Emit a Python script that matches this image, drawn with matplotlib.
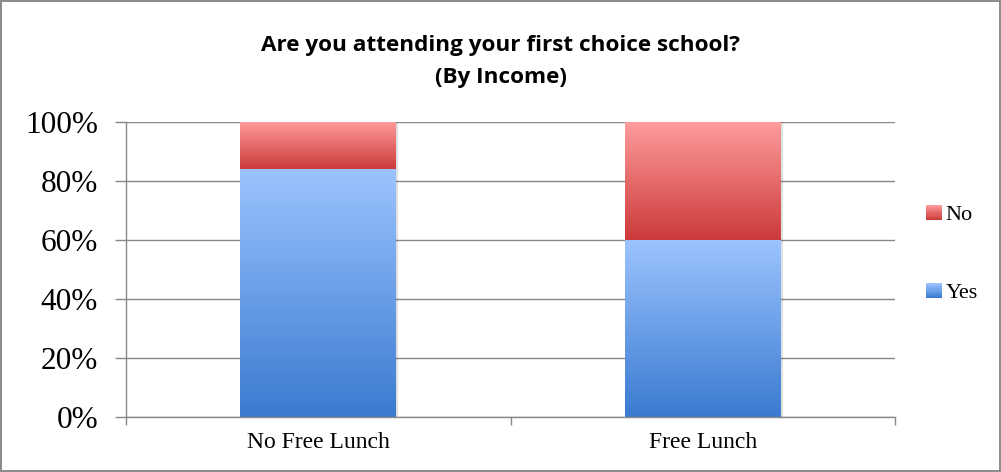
import numpy as np
import matplotlib
matplotlib.use("Agg")
import matplotlib.pyplot as plt
from matplotlib.colors import LinearSegmentedColormap
from matplotlib.patches import Rectangle
from matplotlib.legend_handler import HandlerBase

categories = ["No Free Lunch", "Free Lunch"]
yes_vals = [84, 60]
no_vals = [16, 40]
series_names = ["No", "Yes"]
yticks = [0, 20, 40, 60, 80, 100]

blue_cmap = LinearSegmentedColormap.from_list("b", ["#3a7bd0", "#9cc3ff"])
red_cmap = LinearSegmentedColormap.from_list("r", ["#cc3a3a", "#ff9c9c"])

fig = plt.figure(figsize=(10.01, 4.72), dpi=100)
fig.patch.set_edgecolor("#8c8c8c")
fig.patch.set_linewidth(1.5)
ax = fig.add_axes([126/1001, 1-417/472, (895-126)/1001, (417-122)/472])

x = np.arange(len(categories))
width = 0.405
grad = np.linspace(0, 1, 256).reshape(-1, 1)

def grad_bar(xs, heights, bottoms, cmap):
    bars = ax.bar(xs, heights, width, bottom=bottoms, color="none", zorder=3)
    for b in bars:
        x0, y0 = b.get_x(), b.get_y()
        w, h = b.get_width(), b.get_height()
        sh = Rectangle((x0 + 0.006, y0), w, h, facecolor="#000000", alpha=0.12,
                       edgecolor="none", zorder=2)
        ax.add_patch(sh)
        im = ax.imshow(grad, cmap=cmap, origin="lower", aspect="auto",
                       extent=[x0, x0 + w, y0, y0 + h], zorder=3, interpolation="bilinear")
        im.set_clip_path(b)
    return bars

grad_bar(x, yes_vals, [0]*len(x), blue_cmap)
grad_bar(x, no_vals, yes_vals, red_cmap)

ax.set_xlim(-0.5, 1.5)
ax.set_ylim(0, 100)
ax.set_yticks(yticks)
ax.set_yticklabels([f"{v}%" for v in yticks], fontfamily="Liberation Serif", fontsize=22.5)
ax.set_xticks(x)
ax.set_xticklabels(categories, fontfamily="Liberation Serif", fontsize=17)
ax.set_xticks([-0.5, 0.5, 1.5], minor=True)
ax.tick_params(axis="x", which="major", length=0, pad=11)
ax.tick_params(axis="x", which="minor", length=6, color="#888888", width=1)
ax.tick_params(axis="y", length=8, color="#888888", width=1, pad=12)
ax.grid(axis="y", color="#888888", linewidth=1, zorder=1)
ax.set_axisbelow(True)
for s in ["top", "right"]:
    ax.spines[s].set_visible(False)
for s in ["left", "bottom"]:
    ax.spines[s].set_color("#888888")
    ax.spines[s].set_linewidth(1)
ax.spines["bottom"].set_zorder(4)

fig.text(0.5, 1-45/472, "Are you attending your first choice school?", ha="center", va="center",
         fontfamily="Open Sans", fontweight="bold", fontsize=16.2)
fig.text(0.5, 1-78/472, "(By Income)", ha="center", va="center",
         fontfamily="Open Sans", fontweight="bold", fontsize=16.2)

class GradHandler(HandlerBase):
    def __init__(self, cmap):
        super().__init__()
        self.cmap = cmap
    def create_artists(self, legend, orig_handle, xdescent, ydescent, width, height, fontsize, trans):
        n = 14
        side = height * 1.0
        arts = []
        for i in range(n):
            r = Rectangle((width - side - xdescent, -ydescent + side * i / n), side, side / n,
                          facecolor=self.cmap(i / (n - 1)), edgecolor="none", transform=trans)
            arts.append(r)
        return arts

h_no = Rectangle((0, 0), 1, 1)
h_yes = Rectangle((0, 1), 1, 1)
leg = fig.legend([h_no, h_yes], series_names,
                 handler_map={h_no: GradHandler(red_cmap), h_yes: GradHandler(blue_cmap)},
                 loc="center left", bbox_to_anchor=(902/1001, 1-254/472), frameon=False,
                 prop={"family": "Liberation Serif", "size": 16}, labelspacing=2.6,
                 handlelength=0.9, handletextpad=0.15)

fig.savefig("out.png", dpi=100)
